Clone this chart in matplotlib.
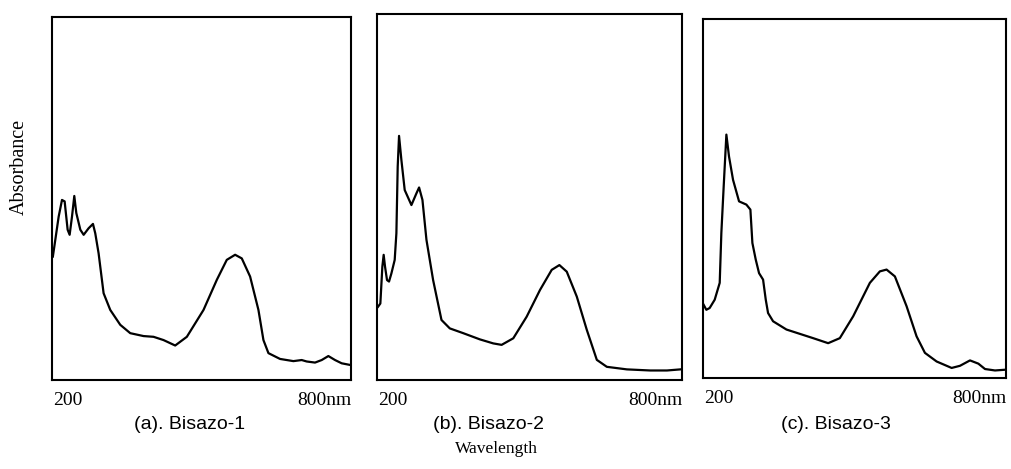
import matplotlib
matplotlib.use("Agg")
import matplotlib.pyplot as plt

# ---- data (wavelength nm, relative absorbance) ----
wl_a = [167, 170.5, 180.6, 188.4, 194.6, 201.6, 206.3, 211.8, 217.2, 221.9, 231.3, 239.1, 250.7,
        260.9, 266.3, 274.1, 285.8, 301.4, 324.8, 348.2, 379.4, 402.7, 426.1, 453.4, 480.7,
        519.7, 550.9, 574.2, 593.7, 609.3, 628.8, 648.3, 660.0, 671.7, 698.9, 730.1, 749.6,
        761.3, 780.8, 796.4, 812.0, 827.6, 843.2, 865.0]
abs_a = [0.340, 0.368, 0.450, 0.496, 0.492, 0.414, 0.400, 0.450, 0.507, 0.460, 0.414, 0.400, 0.418,
         0.430, 0.404, 0.349, 0.239, 0.193, 0.152, 0.129, 0.121, 0.119, 0.110, 0.095, 0.119,
         0.193, 0.276, 0.331, 0.345, 0.335, 0.285, 0.193, 0.110, 0.074, 0.058, 0.052, 0.055,
         0.051, 0.048, 0.055, 0.066, 0.055, 0.046, 0.041]

wl_b = [167.3, 172.7, 177.3, 180.3, 183.4, 188.0, 192.6, 198.0, 205.6, 209.5, 212.5, 215.6, 221.0,
        228.6, 244.0, 255.5, 261.6, 269.3, 278.5, 293.8, 313.0, 332.1, 362.8, 401.1, 431.8,
        451.0, 477.8, 508.5, 539.1, 566.0, 583.6, 600.5, 623.5, 646.5, 669.5, 692.5, 738.5,
        792.2, 830.5, 861.2]
abs_b = [0.200, 0.209, 0.310, 0.342, 0.310, 0.273, 0.269, 0.291, 0.328, 0.401, 0.583, 0.667, 0.601,
         0.519, 0.478, 0.510, 0.526, 0.492, 0.383, 0.273, 0.164, 0.141, 0.128, 0.111, 0.100,
         0.096, 0.114, 0.173, 0.246, 0.301, 0.314, 0.296, 0.228, 0.137, 0.055, 0.036, 0.029,
         0.026, 0.026, 0.029]

wl_c = [166.5, 172.7, 180.4, 192.0, 203.6, 207.4, 212.8, 219.0, 225.1, 234.4, 248.3, 265.2, 274.5,
        279.1, 286.8, 294.5, 303.8, 310.0, 315.3, 326.9, 357.8, 388.6, 419.4, 454.1, 481.1,
        512.0, 550.5, 573.6, 589.1, 608.3, 635.3, 658.4, 677.7, 704.7, 739.4, 758.7, 781.8,
        801.1, 816.5, 839.6, 862.7]
abs_c = [0.204, 0.190, 0.195, 0.218, 0.265, 0.404, 0.534, 0.678, 0.617, 0.552, 0.492, 0.483, 0.469,
         0.376, 0.330, 0.292, 0.274, 0.218, 0.181, 0.158, 0.135, 0.123, 0.111, 0.097, 0.111,
         0.172, 0.265, 0.297, 0.302, 0.283, 0.200, 0.116, 0.070, 0.046, 0.028, 0.034, 0.049,
         0.040, 0.025, 0.021, 0.023]

captions = ["(a). Bisazo-1", "(b). Bisazo-2", "(c). Bisazo-3"]
tick_left = "200"
tick_right = "800nm"

W, H = 1012, 469
fig = plt.figure(figsize=(W / 100, H / 100), dpi=100)
fig.patch.set_facecolor("white")

# axes boxes in pixels: left, right, top, bottom
boxes = [(52, 351, 17, 380), (377, 682, 14, 380), (703, 1006, 19, 378)]
cap_x = [190, 489, 836]
series = [(wl_a, abs_a), (wl_b, abs_b), (wl_c, abs_c)]

serif = "Liberation Serif"
sans = "Liberation Sans"

for (l, r, t, b), (wl, ab), cap, cx in zip(boxes, series, captions, cap_x):
    ax = fig.add_axes([l / W, (H - b) / H, (r - l) / W, (b - t) / H])
    ax.plot(wl, ab, color="black", lw=1.6, solid_joinstyle="round")
    ax.set_xlim(165, 865)
    ax.set_ylim(0, 1)
    ax.set_xticks([])
    ax.set_yticks([])
    for s in ax.spines.values():
        s.set_linewidth(1.5)
        s.set_color("black")
    wpx = r - l
    ax.text(16 / wpx, -20 / (b - t), tick_left, transform=ax.transAxes,
            ha="center", va="center", fontsize=14, family=serif)
    ax.text(1.003, -20 / (b - t), tick_right, transform=ax.transAxes,
            ha="right", va="center", fontsize=14, family=serif)
    fig.text(cx / W, 1 - 424 / H, cap, ha="center", va="center",
             fontsize=14, family=sans)

fig.text(496 / W, 1 - 449 / H, "Wavelength", ha="center", va="center",
         fontsize=12.5, family=serif)
fig.text(19 / W, 1 - 167 / H, "Absorbance", ha="center", va="center",
         rotation=90, fontsize=14.5, family=serif)

fig.savefig("out.png", dpi=100, facecolor="white")
